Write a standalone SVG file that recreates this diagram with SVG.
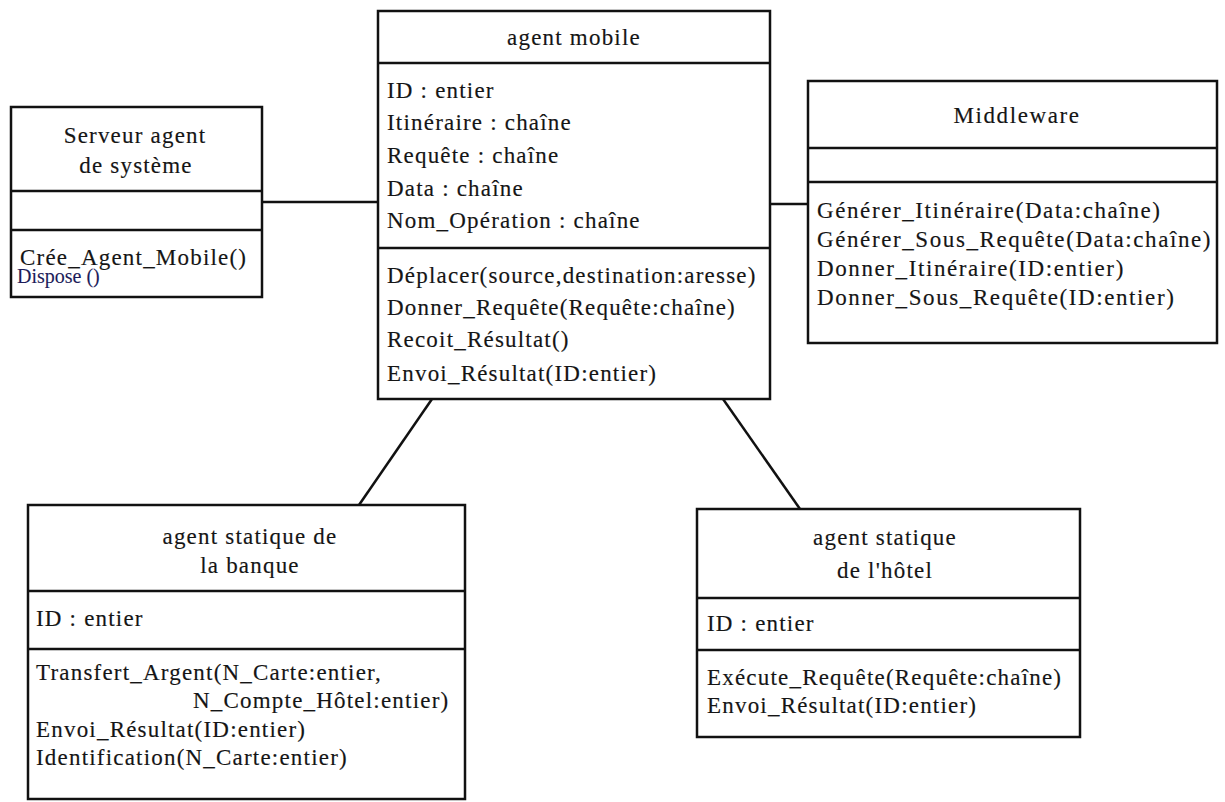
<svg xmlns="http://www.w3.org/2000/svg" width="1225" height="802" viewBox="0 0 1225 802">
  <style>
    .box { fill: #ffffff; stroke: #111111; stroke-width: 2.5; }
    .div { stroke: #111111; stroke-width: 2.5; }
    .conn { stroke: #111111; stroke-width: 2.5; fill: none; }
    text { font-family: "Liberation Serif", "Times New Roman", serif; font-size: 23px; fill: #151515; stroke: #151515; stroke-width: 0.15; letter-spacing: 1.2px; }
    .mid { text-anchor: middle; }
    .mw { font-size: 23px; letter-spacing: 1.6px; }
    .small { font-size: 20px; letter-spacing: 0; fill: #1c1c5a; stroke: #1c1c5a; stroke-width: 0.1; }
  </style>
  <rect width="1225" height="802" fill="#ffffff"/>

  <!-- associations between classes -->
  <g id="connectors">
    <line class="conn" x1="262" y1="202" x2="378" y2="202"/>
    <line class="conn" x1="770" y1="204" x2="808" y2="204"/>
    <line class="conn" x1="432" y1="399" x2="359" y2="505"/>
    <line class="conn" x1="723" y1="399" x2="800" y2="509"/>
  </g>

  <!-- Serveur agent de système -->
  <g id="serveur">
    <rect class="box" x="11" y="107" width="251" height="190"/>
    <line class="div" x1="11" y1="191" x2="262" y2="191"/>
    <line class="div" x1="11" y1="230" x2="262" y2="230"/>
    <text class="mid" x="135" y="143">Serveur agent</text>
    <text class="mid" x="136" y="173">de système</text>
    <text x="20" y="265">Crée_Agent_Mobile()</text>
    <text class="small" x="17" y="283">Dispose ()</text>
  </g>

  <!-- agent mobile -->
  <g id="agent-mobile">
    <rect class="box" x="378" y="11" width="392" height="388"/>
    <line class="div" x1="378" y1="63" x2="770" y2="63"/>
    <line class="div" x1="378" y1="248" x2="770" y2="248"/>
    <text class="mid" x="574" y="45">agent mobile</text>
    <text x="387" y="98">ID : entier</text>
    <text x="387" y="130">Itinéraire : chaîne</text>
    <text x="387" y="163">Requête : chaîne</text>
    <text x="387" y="196">Data : chaîne</text>
    <text x="387" y="228">Nom_Opération : chaîne</text>
    <text x="387" y="283">Déplacer(source,destination:aresse)</text>
    <text x="387" y="315">Donner_Requête(Requête:chaîne)</text>
    <text x="387" y="347">Recoit_Résultat()</text>
    <text x="387" y="381">Envoi_Résultat(ID:entier)</text>
  </g>

  <!-- Middleware -->
  <g id="middleware">
    <rect class="box" x="808" y="81" width="409" height="262"/>
    <line class="div" x1="808" y1="148" x2="1217" y2="148"/>
    <line class="div" x1="808" y1="182" x2="1217" y2="182"/>
    <text class="mid mw" x="1017" y="123">Middleware</text>
    <text class="mw" x="817" y="218">Générer_Itinéraire(Data:chaîne)</text>
    <text class="mw" x="817" y="247">Générer_Sous_Requête(Data:chaîne)</text>
    <text class="mw" x="817" y="276">Donner_Itinéraire(ID:entier)</text>
    <text class="mw" x="817" y="305">Donner_Sous_Requête(ID:entier)</text>
  </g>

  <!-- agent statique de la banque -->
  <g id="agent-banque">
    <rect class="box" x="28" y="505" width="437" height="294"/>
    <line class="div" x1="28" y1="591" x2="465" y2="591"/>
    <line class="div" x1="28" y1="649" x2="465" y2="649"/>
    <text class="mid" x="250" y="544">agent statique de</text>
    <text class="mid" x="250" y="573">la banque</text>
    <text x="36" y="626">ID : entier</text>
    <text x="36" y="680">Transfert_Argent(N_Carte:entier,</text>
    <text x="193" y="708">N_Compte_Hôtel:entier)</text>
    <text x="36" y="737">Envoi_Résultat(ID:entier)</text>
    <text x="36" y="765">Identification(N_Carte:entier)</text>
  </g>

  <!-- agent statique de l'hôtel -->
  <g id="agent-hotel">
    <rect class="box" x="697" y="509" width="383" height="228"/>
    <line class="div" x1="697" y1="598" x2="1080" y2="598"/>
    <line class="div" x1="697" y1="650" x2="1080" y2="650"/>
    <text class="mid" x="885" y="545">agent statique</text>
    <text class="mid" x="885" y="578">de l'hôtel</text>
    <text x="707" y="631">ID : entier</text>
    <text x="707" y="685">Exécute_Requête(Requête:chaîne)</text>
    <text x="707" y="713">Envoi_Résultat(ID:entier)</text>
  </g>
</svg>
